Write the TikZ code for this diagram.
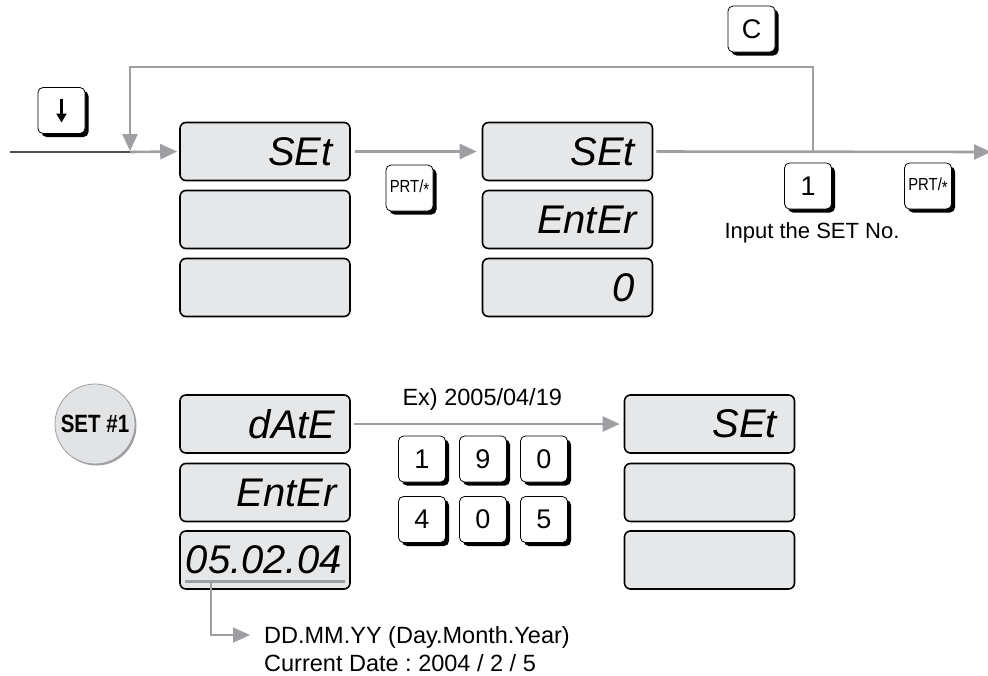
\documentclass[tikz,border=0pt]{standalone}
\usepackage{fontspec}
\setmainfont{Liberation Sans}
\usetikzlibrary{arrows.meta,shadows}
\definecolor{lcdgray}{HTML}{E6E7E8}
\definecolor{flowgray}{HTML}{9D9FA2}
\definecolor{leadgray}{HTML}{4D4D4D}
\definecolor{discgray}{HTML}{E2E3E4}
\frenchspacing
\begin{document}
\begin{tikzpicture}[x=1pt,y=-1pt]
		\tikzset{lcd/.style={draw=black, line width=1.6pt, fill=lcdgray, rounded corners=6pt, minimum width=170pt, minimum height=58pt, inner sep=0pt}}
		\tikzset{lcdtxt/.style={anchor=east, inner sep=0pt, font=\fontsize{40}{40}\selectfont\itshape}}
		\tikzset{keycap/.style={draw=black, line width=0.8pt, fill=white, rounded corners=5pt, minimum width=47pt, minimum height=46pt, inner sep=0pt, drop shadow={shadow xshift=3.5pt, shadow yshift=-3.5pt, fill=black, opacity=1}, font=\fontsize{27}{27}\selectfont}}
		\tikzset{flow/.style={draw=flowgray, line width=2.6pt, -{Triangle[length=17pt,width=15pt]}}}
		\tikzset{note/.style={inner sep=0pt, font=\fontsize{23.5}{28}\selectfont}}
		\useasboundingbox (0,0) rectangle (988,675);
		% displays, first row
		\node[lcd] (s1) at (265,151.5) {};
		\node[lcd] (s1b) at (265,219.5) {};
		\node[lcd] (s1c) at (265,287.5) {};
		\node[lcd] (s2) at (567.5,151.5) {};
		\node[lcd] (s2b) at (567.5,219.5) {};
		\node[lcd] (s2c) at (567.5,287.5) {};
		\node[lcdtxt] at ([xshift=-18pt]s1.east) {SEt};
		\node[lcdtxt] at ([xshift=-18pt]s2.east) {SEt};
		\node[lcdtxt] at ([xshift=-16pt]s2b.east) {EntEr};
		\node[lcdtxt] at ([xshift=-18pt]s2c.east) {0};
		% displays, second row
		\node[lcd] (d1) at (265,424) {};
		\node[lcd] (d2) at (265,492.5) {};
		\node[lcd] (d3) at (265,560) {};
		\node[lcd] (r1) at (709.5,424) {};
		\node[lcd] (r2) at (709.5,492.5) {};
		\node[lcd] (r3) at (709.5,560) {};
		\node[lcdtxt] at ([xshift=-15pt]d1.east) {dAtE};
		\node[lcdtxt] at ([xshift=-14pt]d2.east) {EntEr};
		\node[lcdtxt] at ([xshift=-9pt]d3.east) {05.02.04};
		\node[lcdtxt] at ([xshift=-18pt]r1.east) {SEt};
		% keys
		\node[keycap] (kd) at (61.5,110.5) {};
		\draw[line width=2.6pt, -{Triangle[length=9pt,width=10pt]}] ([yshift=12pt]kd.center) -- ([yshift=-12pt]kd.center);
		\node[keycap, font=\fontsize{17.5}{17.5}\selectfont] (kp1) at (409.5,188) {\scalebox{0.85}[1]{PRT/\raisebox{-0.3ex}{*}}};
		\node[keycap] (kc) at (751.5,29) {C};
		\node[keycap] (k1) at (808,186) {1};
		\node[keycap, font=\fontsize{17.5}{17.5}\selectfont] (kp2) at (928,186) {\scalebox{0.85}[1]{PRT/\raisebox{-0.3ex}{*}}};
		\node[note, font=\fontsize{22}{26}\selectfont] (inp) at (812,233) {Input the SET No.};
		\node[keycap] (n1) at (422,459) {1};
		\node[keycap] (n9) at (483,459) {9};
		\node[keycap] (n0) at (544,459) {0};
		\node[keycap] (n4) at (422,519.5) {4};
		\node[keycap] (n0b) at (483,519.5) {0};
		\node[keycap] (n5) at (544,519.5) {5};
		% set badge
		\node[circle, draw=flowgray, line width=0.8pt, fill=discgray, minimum size=80pt, inner sep=0pt, drop shadow={shadow xshift=1.5pt, shadow yshift=-1.5pt, fill=flowgray, opacity=1}, font=\fontsize{25}{25}\selectfont\bfseries] (set) at (95,424) {\scalebox{0.82}[1]{SET \#1}};
		% flow lines
		\coordinate (in) at (10,152);
		\coordinate (jn) at (130,152);
		\coordinate (ct) at (813,152);
		\coordinate (out) at (991,152);
		\draw[leadgray, line width=2.6pt] (in) -- (jn);
		\draw[flow, shorten >=2pt] (jn) -- (s1.west);
		\draw[flow] (ct) -- (813,67) -- (130,67) -- ([yshift=1pt]jn);
		\draw[flow, shorten <=4pt, shorten >=5pt] (s1.east) -- (s2.west);
		\draw[flow, shorten <=3pt] (s2.east) -- (out);
		\draw[flow, shorten <=3pt, shorten >=4pt] (d1.east) -- node[note, above=12pt, xshift=-5pt] (ex) {Ex) 2005/04/19} (r1.west);
		% date format note
		\coordinate (ul) at (185,581);
		\coordinate (ur) at (345,581);
		\draw[flowgray, line width=3pt] (ul) -- (ur);
		\node[note, align=left, anchor=west] (fmt) at (264,649) {DD.MM.YY (Day.Month.Year)\\Current Date : 2004 / 2 / 5};
		\draw[flow, line width=2pt] (211,581) |- ([xshift=-14pt]fmt.west |- 0,635);
	\end{tikzpicture}
\end{document}
